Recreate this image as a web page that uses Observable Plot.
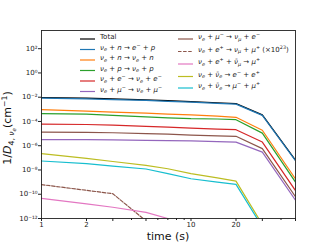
<!DOCTYPE html>
<html><head><meta charset="utf-8">
<script src="https://cdn.jsdelivr.net/npm/d3@7"></script>
<script src="https://cdn.jsdelivr.net/npm/@observablehq/plot@0.6"></script>
<style>
body{margin:0;background:#fff;}
#chart{position:relative;width:327px;height:245px;}
text{white-space:pre;}
</style>
</head><body><div id="chart"></div>
<script>
// time samples (s)
const times = [1, 2, 3, 5, 7, 10, 15, 20, 30, 50];

// 1/D values (cm^-1)
const total     = [9.5e-3, 8.3e-3, 7.2e-3, 6.0e-3, 5.2e-3, 4.4e-3, 3.5e-3, 3.0e-3, 3.5e-4, 6.3e-8];
const nuNtoEP   = [8.5e-3, 7.4e-3, 6.4e-3, 5.4e-3, 4.6e-3, 3.9e-3, 3.1e-3, 2.7e-3, 3.2e-4, 5.8e-8];
const nuNtoNuN  = [9.5e-4, 7.1e-4, 6.0e-4, 4.8e-4, 4.0e-4, 3.5e-4, 2.8e-4, 2.2e-4, 1.9e-5, 1.8e-9];
const nuPtoNuP  = [4.5e-4, 4.0e-4, 3.2e-4, 2.4e-4, 2.0e-4, 1.7e-4, 1.6e-4, 1.4e-4, 1.1e-5, 1.0e-9];
const nuEtoNuE  = [6.0e-5, 5.6e-5, 5.0e-5, 4.0e-5, 3.4e-5, 2.8e-5, 2.3e-5, 2.1e-5, 2.0e-6, 2.0e-10];
const nuMuToNuMu= [3.2e-6, 3.2e-6, 3.0e-6, 2.8e-6, 2.6e-6, 2.5e-6, 2.2e-6, 2.0e-6, 3.0e-7, 3.2e-11];
const nuMuToNumuE=[1.3e-5, 1.26e-5,1.17e-5,1.0e-5, 8.9e-6, 7.6e-6, 6.6e-6, 6.0e-6, 5.8e-7, 6.3e-11];
const nuEpToNumuMup=[6.2e-10,2.1e-10,1.1e-10,6.3e-13,3.2e-14,1e-15, 1e-16, 1e-16, 1e-17, 1e-18];
const nuEpNumubarToMup=[4.5e-11,1.6e-11,8.5e-12,3.2e-12,1.0e-12,1.6e-13,3.2e-14,1e-14,1e-15,1e-16];
const nuNuebarToEE=[2.2e-7, 9.1e-8, 5.0e-8, 2.4e-8, 1.26e-8,5.0e-9, 2.2e-9, 1.2e-9, 3.2e-13, 1e-16];
const nuNuebarToMuMu=[5.5e-8,3.4e-8, 2.1e-8, 1.2e-8, 5.0e-9, 1.9e-9, 1.0e-9, 6.5e-10, 2.0e-13, 1e-16];

const labels = [
  "Total",
  "ν_e + n → e^− + p",
  "ν_e + n → ν_e + n",
  "ν_e + p → ν_e + p",
  "ν_e + e^− → ν_e + e^−",
  "ν_e + μ^− → ν_e + μ^−",
  "ν_e + μ^− → ν_μ + e^−",
  "ν_e + e^+ → ν_μ + μ^+ (×10^{23})",
  "ν_e + e^+ + ν̄_μ → μ^+",
  "ν_e + ν̄_e → e^− + e^+",
  "ν_e + ν̄_e → μ^− + μ^+"
];
const values = [total, nuNtoEP, nuNtoNuN, nuPtoNuP, nuEtoNuE, nuMuToNuMu, nuMuToNumuE, nuEpToNumuMup, nuEpNumubarToMup, nuNuebarToEE, nuNuebarToMuMu];
const colors = ["#000000","#1f77b4","#ff7f0e","#2ca02c","#d62728","#9467bd","#8c564b","#8c564b","#e377c2","#bcbd22","#17becf"];
const dashes = [null,null,null,null,null,null,null,"3.5,1.6",null,null,null];

const xTickValues = [1, 2, 3, 5, 10, 20, 30, 50];
const xMinorTicks = [4, 6, 7, 8, 9, 40];
const yTickValues = [1e-12, 1e-10, 1e-8, 1e-6, 1e-4, 1e-2, 1, 1e2];

const supMap = {"-":"⁻","0":"⁰","1":"¹","2":"²","3":"³","4":"⁴","5":"⁵","6":"⁶","7":"⁷","8":"⁸","9":"⁹"};
const fmtPow = d => "10" + String(Math.round(Math.log10(d))).split("").map(c => supMap[c]).join("");

const lineMarks = values.map((arr, k) => Plot.line(
  times.map((t, i) => ({t, v: arr[i]})),
  {x: "t", y: "v", stroke: colors[k], strokeWidth: 1.2, strokeDasharray: dashes[k] || undefined, clip: true}
));

const plot = Plot.plot({
  width: 327, height: 245,
  marginLeft: 41, marginRight: 32, marginTop: 30, marginBottom: 27,
  style: {fontFamily: "DejaVu Sans", fontSize: "7px", background: "#fff", color: "#222"},
  x: {type: "log", domain: [1, 50]},
  y: {type: "log", domain: [1e-12, 3162]},
  marks: [
    ...lineMarks,
    Plot.axisX(xTickValues, {tickFormat: d => String(d), tickSize: 3, tickPadding: 1, label: null, fontSize: 7}),
    Plot.axisX(xMinorTicks, {tickFormat: () => "", tickSize: 2, label: null}),
    Plot.axisY(yTickValues, {tickFormat: fmtPow, tickSize: 3, tickPadding: 1, label: null, fontSize: 7}),
    Plot.frame({stroke: "#222", strokeWidth: 0.9})
  ]
});
document.getElementById("chart").appendChild(plot);

const svg = d3.select(plot);

function mathText(sel, str, size, italic) {
  const pieces = [];
  let i = 0;
  const comb = /[\u0300-\u036f]/;
  while (i < str.length) {
    const c = str[i];
    if (c === "_" || c === "^") {
      let j = i + 1, content;
      if (str[j] === "{") { const k = str.indexOf("}", j); content = str.slice(j + 1, k); i = k + 1; }
      else { content = str[j]; i = j + 1; while (i < str.length && comb.test(str[i])) { content += str[i]; i++; } }
      pieces.push({text: content, shift: c === "_" ? 0.25 : -0.4, scale: 0.7});
    } else {
      let t = c; i++;
      while (i < str.length && comb.test(str[i])) { t += str[i]; i++; }
      pieces.push({text: t, shift: 0, scale: 1});
    }
  }
  let off = 0;
  for (const p of pieces) {
    const target = p.shift * size;
    const isLetter = /[A-Za-zα-ωΑ-Ω]/.test(p.text[0]);
    sel.append("tspan")
      .attr("dy", target - off)
      .attr("font-size", size * p.scale)
      .attr("font-style", italic && isLetter ? "italic" : "normal")
      .text(p.text);
    off = target;
  }
}

// legend
const col1Y = [39, 49.5, 60, 70.5, 81, 91.5];
const col2Y = [39, 51.5, 64, 76.5, 88];
const leg = svg.append("g").attr("font-family", "DejaVu Sans").attr("text-anchor", "start");
labels.forEach((lab, k) => {
  const col = k < 6 ? 0 : 1;
  const y = col === 0 ? col1Y[k] : col2Y[k - 6];
  const x0 = col === 0 ? 80 : 178;
  leg.append("line").attr("x1", x0).attr("x2", x0 + 15).attr("y1", y).attr("y2", y)
    .attr("stroke", colors[k]).attr("stroke-width", 1.2)
    .attr("stroke-dasharray", dashes[k] || null);
  const t = leg.append("text").attr("x", x0 + 20).attr("y", y).attr("dy", "0.35em")
    .attr("text-anchor", "start")
    .attr("font-size", 7).attr("fill", "#222");
  mathText(t, lab, 7, k !== 0);
});

// axis labels
svg.append("text").attr("x", 168).attr("y", 240).attr("text-anchor", "middle")
  .attr("font-family", "DejaVu Sans").attr("font-size", 11).attr("fill", "#111").text("time (s)");

const yl = svg.append("text")
  .attr("transform", "translate(11,128) rotate(-90)")
  .attr("text-anchor", "middle")
  .attr("font-family", "DejaVu Sans").attr("font-size", 11).attr("fill", "#111");
const ylPieces = [
  {t: "1/", s: 0, z: 1, it: false},
  {t: "D", s: 0, z: 1, it: true},
  {t: "4, ", s: 0.25, z: 0.7, it: false},
  {t: "ν", s: 0.25, z: 0.7, it: true},
  {t: "e", s: 0.45, z: 0.5, it: true},
  {t: "(cm", s: 0, z: 1, it: false},
  {t: "−1", s: -0.4, z: 0.7, it: false},
  {t: ")", s: 0, z: 1, it: false}
];
let yoff = 0;
for (const p of ylPieces) {
  const target = p.s * 11;
  yl.append("tspan").attr("dy", target - yoff).attr("font-size", 11 * p.z)
    .attr("font-style", p.it ? "italic" : "normal").text(p.t);
  yoff = target;
}
</script>
</body></html>
